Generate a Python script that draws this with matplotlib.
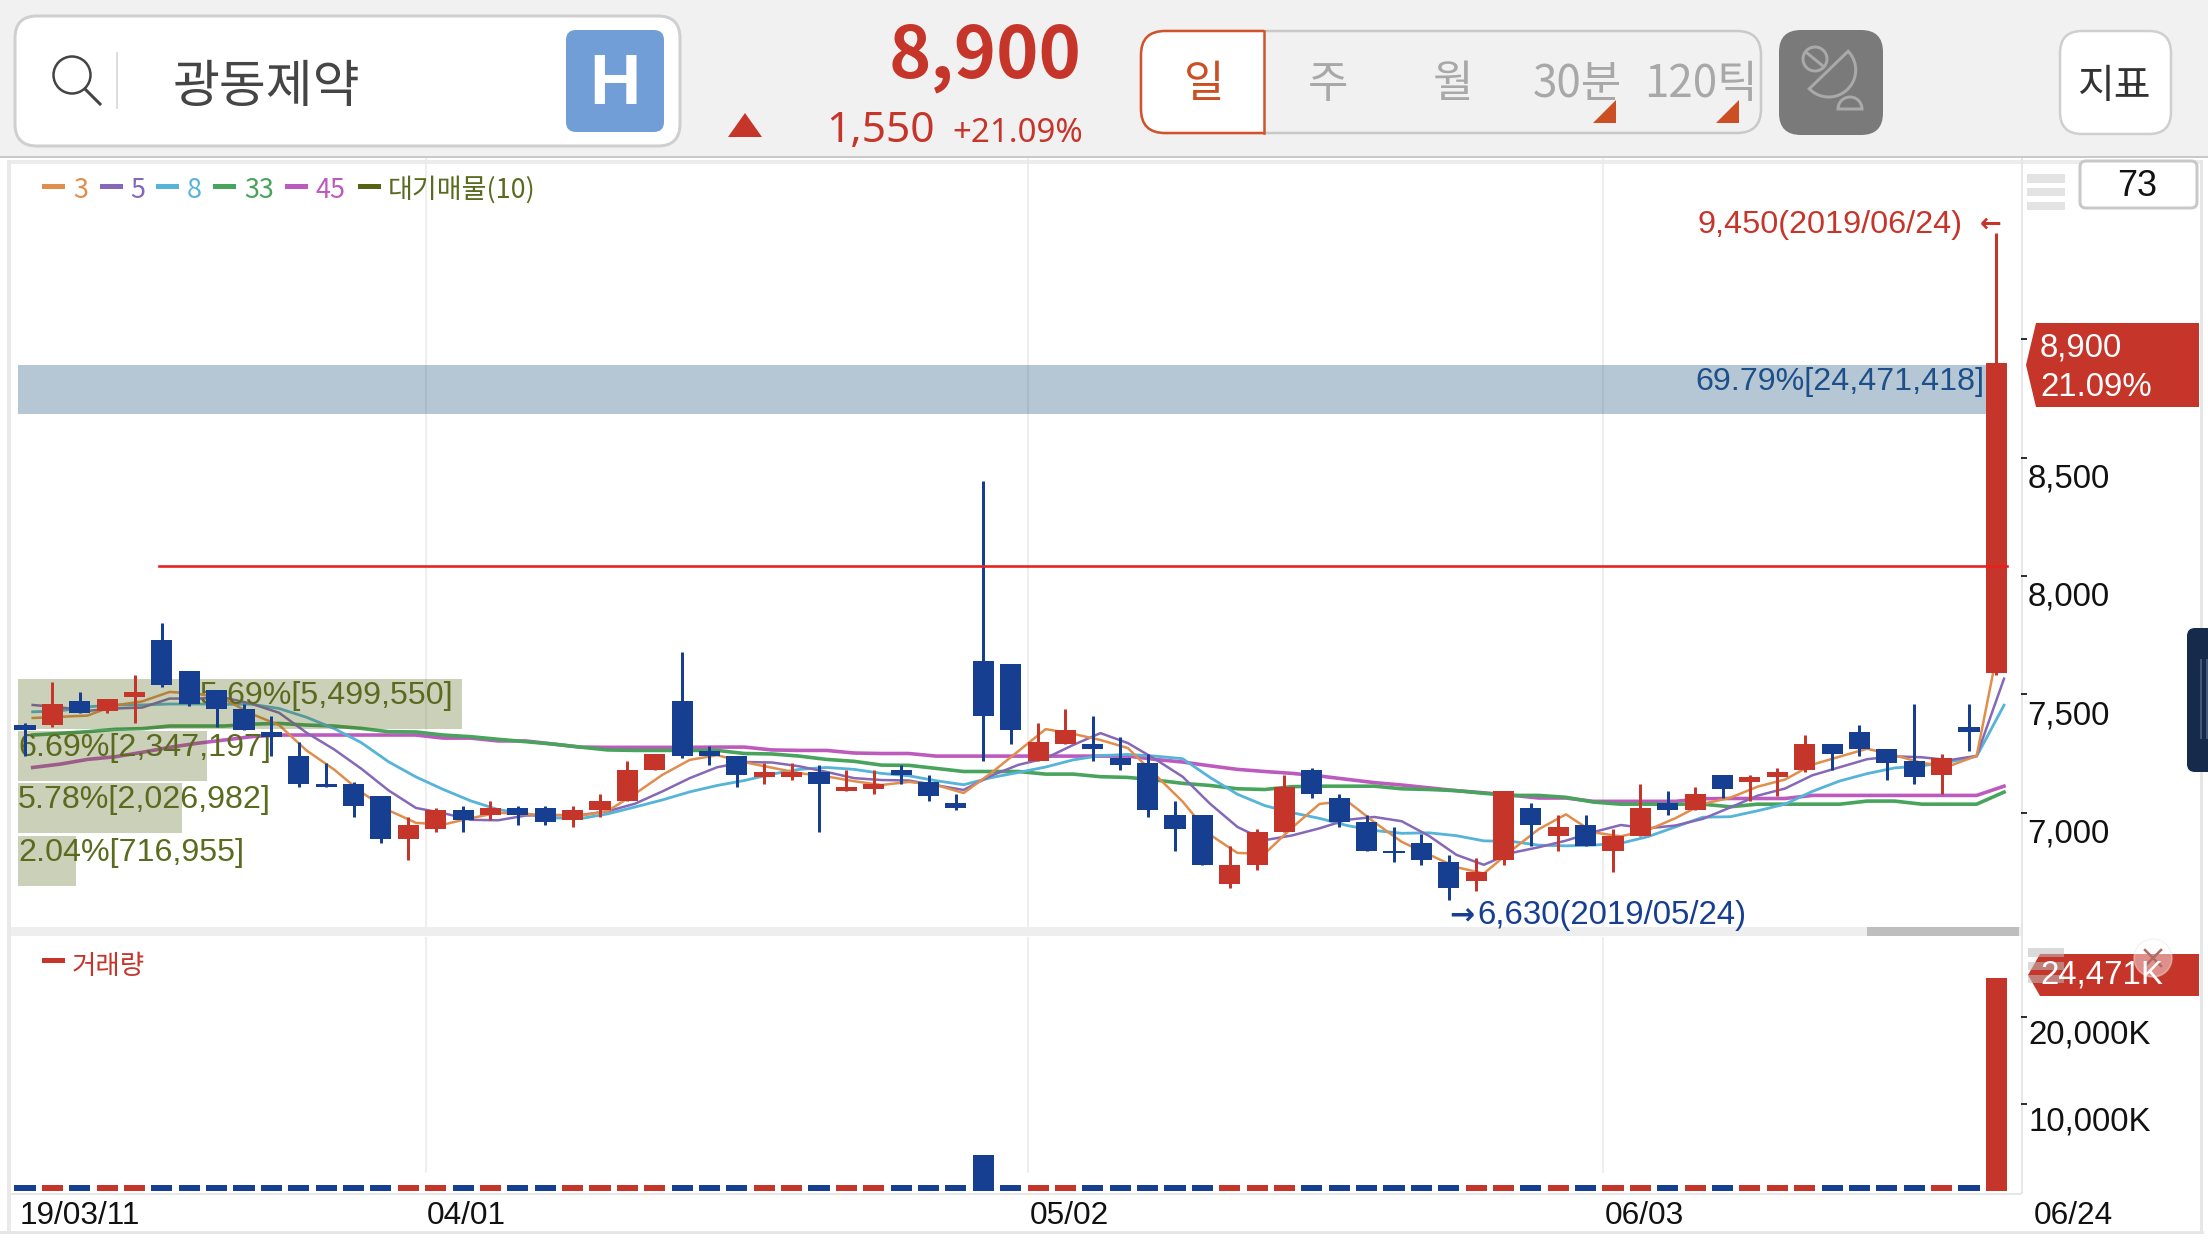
import numpy as np
import matplotlib
matplotlib.use("Agg")
import matplotlib.pyplot as plt
from matplotlib.patches import FancyBboxPatch, Rectangle, Polygon, Circle
from matplotlib.transforms import ScaledTranslation

# ------------------------------ data ------------------------------
opens = [7370,7370,7470,7430,7490,7730,7600,7520,7440,7340,
         7240,7120,7120,7070,6890,6930,7010,6990,7020,7020,
         6970,7010,7050,7180,7470,7260,7240,7150,7150,7170,
         7090,7100,7180,7130,7040,7640,7630,7220,7290,7290,
         7230,7210,6990,6990,6700,6780,6920,7180,7060,6960,
         6840,6870,6790,6710,6800,7020,6900,6950,6840,6900,
         7040,7010,7160,7130,7150,7180,7290,7340,7270,7220,
         7160,7360,7590]
highs = [7380,7550,7510,7480,7580,7800,7600,7520,7460,7410,
         7300,7210,7130,7070,6980,7020,7030,7050,7030,7030,
         7030,7080,7220,7250,7680,7280,7240,7210,7210,7200,
         7180,7180,7200,7160,7080,8400,7630,7380,7440,7410,
         7320,7250,7050,6990,6860,6930,7160,7190,7080,6990,
         6940,6910,6820,6810,7090,7040,6990,6990,6930,7120,
         7090,7110,7160,7160,7190,7330,7290,7370,7270,7460,
         7250,7460,9450]
lows = [7240,7360,7420,7420,7380,7530,7450,7360,7350,7240,
        7110,7110,6980,6870,6800,6920,6920,6970,6950,6950,
        6940,6980,7050,7180,7230,7200,7110,7120,7140,6920,
        7090,7080,7120,7050,7010,7220,7290,7220,7290,7220,
        7180,6980,6840,6780,6680,6760,6920,7060,6940,6840,
        6790,6780,6630,6670,6780,6860,6840,6860,6750,6900,
        6990,7010,7060,7050,7070,7170,7180,7240,7140,7120,
        7080,7260,7580]
closes = [7350,7460,7420,7480,7510,7540,7460,7440,7350,7320,
          7120,7110,7030,6890,6950,7010,6970,7020,6990,6960,
          7010,7050,7180,7250,7240,7240,7160,7170,7170,7120,
          7110,7120,7160,7070,7020,7410,7350,7300,7350,7270,
          7200,7010,6930,6780,6780,6920,7110,7080,6960,6840,
          6830,6800,6680,6750,7090,6950,6940,6860,6900,7020,
          7010,7080,7100,7150,7170,7290,7250,7270,7210,7150,
          7230,7340,8900]
ma3 = [7400,7405,7410,7453,7470,7510,7503,7480,7417,7370,
       7263,7183,7087,7010,6957,6950,6977,7000,6993,6990,
       6987,7007,7080,7160,7223,7243,7213,7190,7167,7153,
       7133,7117,7130,7117,7083,7167,7260,7353,7333,7307,
       7273,7160,7047,6907,6830,6827,6937,7037,7050,6960,
       6877,6823,6770,6743,6840,6930,6993,6917,6900,6927,
       6977,7037,7063,7110,7140,7203,7237,7270,7243,7210,
       7197,7240,7823]
ma5 = [7455,7445,7430,7440,7444,7482,7482,7486,7460,7422,
       7338,7268,7186,7094,7020,6998,6970,6968,6988,6990,
       6990,7006,7038,7090,7146,7192,7214,7212,7196,7172,
       7146,7138,7136,7116,7096,7156,7202,7230,7286,7336,
       7294,7226,7152,7038,6940,6884,6904,6934,6970,6982,
       6964,6902,6822,6780,6830,6854,6882,6918,6948,6934,
       6946,6974,7022,7072,7102,7158,7192,7226,7238,7234,
       7222,7240,7566]
ma8 = [7426,7430,7447,7455,7455,7459,7459,7458,7458,7440,
       7403,7356,7296,7215,7151,7098,7050,7013,6996,6978,
       6975,6995,7024,7054,7088,7115,7136,7163,7183,7191,
       7183,7166,7156,7135,7118,7148,7170,7193,7223,7241,
       7246,7239,7228,7149,7078,7030,7000,6976,6946,6925,
       6913,6915,6903,6881,6879,6863,6860,6863,6871,6899,
       6940,6981,6983,7008,7036,7090,7134,7165,7189,7198,
       7214,7238,7454]
ma33 = [7328,7335,7342,7352,7355,7366,7366,7366,7374,7377,
        7370,7366,7356,7342,7341,7328,7321,7310,7300,7290,
        7277,7265,7263,7263,7263,7263,7250,7248,7239,7225,
        7217,7201,7200,7187,7174,7174,7174,7163,7163,7152,
        7149,7138,7124,7115,7101,7098,7110,7112,7112,7112,
        7101,7098,7093,7082,7073,7073,7065,7045,7036,7036,
        7036,7036,7025,7036,7036,7036,7036,7049,7049,7036,
        7036,7036,7087]
ma45 = [7191,7205,7225,7236,7255,7276,7293,7307,7321,7328,
        7328,7328,7328,7328,7328,7315,7315,7303,7303,7290,
        7277,7276,7276,7276,7276,7277,7277,7265,7263,7263,
        7252,7250,7250,7239,7239,7239,7239,7239,7239,7239,
        7239,7225,7214,7198,7183,7174,7166,7155,7141,7127,
        7117,7105,7093,7084,7074,7062,7062,7048,7048,7048,
        7048,7059,7060,7060,7060,7073,7073,7073,7073,7073,
        7073,7073,7112]
volumes_k = [700,700,700,700,700,700,700,700,700,700,
             700,700,700,700,700,700,700,700,700,700,
             700,700,700,700,700,700,700,700,700,700,
             700,700,700,700,700,4140,700,700,700,700,
             700,700,700,700,700,700,700,700,700,700,
             700,700,700,700,700,700,700,700,700,700,
             700,700,700,700,700,700,700,700,700,700,
             700,700,24471]
profile_center = [8787, 7459, 7238, 7019, 6797]
profile_volume = [24471418, 5499550, 2347197, 2026982, 716955]
profile_pct = [69.79, 15.69, 6.69, 5.78, 2.04]
trend_x = [4.9, 72.4]
trend_y = [8040, 8040]
price_ticks = [7000, 7500, 8000, 8500, 9000]
price_labels = ["7,000", "7,500", "8,000", "8,500", ""]
vol_ticks = [10000, 20000]
vol_labels = ["10,000K", "20,000K"]
date_pos = [0, 15, 37, 58]
date_labels = ["19/03/11", "04/01", "05/02", "06/03"]
last_date = "06/24"
legend_labels = ["3", "5", "8", "33", "45", "대기매물(10)"]

# ------------------------------ style ------------------------------
W, H = 2208, 1242
DPI = 100
RED = "#c6352a"; NAVY = "#173f91"; OLIVE = "#5a6a1e"
C3 = "#e18e4d"; C5 = "#8568b7"; C8 = "#55b4d8"; C33 = "#48a45c"; C45 = "#bd5abd"
LAT = "Liberation Sans"; KR = "Noto Sans CJK KR"; UI = "Noto Sans"
def pt(px):
    return px * 72.0 / DPI

plt.rcParams["font.family"] = [LAT, "DejaVu Sans"]
fig = plt.figure(figsize=(W / DPI, H / DPI), dpi=DPI, facecolor="white")

def panel(l, t, r, b, z):
    a = fig.add_axes([l / W, 1 - b / H, (r - l) / W, (b - t) / H], zorder=z)
    a.patch.set_alpha(0)
    for s in a.spines.values():
        s.set_visible(False)
    return a

# layout: pixel of candle 0, pitch, price scale
X0, DX, L, R = 25.0, 27.38, 11, 2021
PT, PB = 158, 927
Y7000, PXU = 812.7, 0.2368
xlim = ((L - X0) / DX, (R - X0) / DX)
ylim = (7000 + (Y7000 - PB) / PXU, 7000 + (Y7000 - PT) / PXU)
days = np.arange(len(closes))

# ---- chrome behind the charts ----
bg = panel(0, 0, W, H, 0)
bg.set_xlim(0, W); bg.set_ylim(H, 0); bg.axis("off")
bg.add_patch(Rectangle((0, 0), W, 156, color="#f1f1f1", lw=0))
bg.add_patch(Rectangle((0, 155.5), W, 2.5, color="#c9c9c9", lw=0))
bg.add_patch(Rectangle((8, 160), 2192, 3.5, color="#ececec", lw=0))
bg.add_patch(Rectangle((7, 160), 4, 1072, color="#e9e9e9", lw=0))
bg.add_patch(Rectangle((0, 1231), 2204, 2.5, color="#e6e6e6", lw=0))
bg.add_patch(Rectangle((2200, 160), 2.5, 1072, color="#e6e6e6", lw=0))
bg.add_patch(Rectangle((2020.5, 158), 2, 1036, color="#e6e6e6", lw=0))
bg.add_patch(Rectangle((11, 1193), 2010, 2, color="#e6e6e6", lw=0))
bg.add_patch(Rectangle((11, 927), 2010, 9, color="#eeeeee", lw=0))
bg.add_patch(Rectangle((1867, 927), 152, 9, color="#bebebe", lw=0))

def rbox(a, x0, y0, x1, y1, r, fc, ec="none", lw=0, **kw):
    p = FancyBboxPatch((x0, y0), x1 - x0, y1 - y0, boxstyle=f"round,pad=0,rounding_size={r}",
                       fc=fc, ec=ec, lw=lw, **kw)
    a.add_patch(p)
    return p

# search box
rbox(bg, 15, 16, 680, 146, 22, "white", "#cfcfcf", pt(3))
bg.add_patch(Circle((72, 75), 18.5, fc="none", ec="#444444", lw=pt(2.5)))
bg.plot([85, 100], [89, 104], color="#444444", lw=pt(3))
bg.plot([116.5, 116.5], [53, 108], color="#dddddd", lw=pt(2))
bg.text(173, 87, "광동제약", family=KR, fontsize=pt(51), color="#454545", va="center", ha="left", weight="medium")
rbox(bg, 566, 30, 664, 132, 10, "#719ed6")
bg.text(615, 86, "H", family=LAT, weight="bold", fontsize=pt(71), color="white", va="center", ha="center")
bg.add_patch(Polygon([[728, 137], [762, 137], [745, 113]], color=RED, lw=0))
bg.text(1081, 57, "8,900", family=KR, weight="bold", fontsize=pt(72), color=RED, ha="right", va="center")
bg.text(935, 131, "1,550", family=UI, fontsize=pt(42.5), color=RED, ha="right", va="center")
bg.text(1083, 133, "+21.09%", family=UI, fontsize=pt(33), color=RED, ha="right", va="center")

# period selector
rbox(bg, 1141, 31, 1761, 133, 24, "#f1f1f1", "#c9c9c9", pt(2.5))
sel = rbox(bg, 1141, 31, 1300, 133, 24, "white", "#d0532a", pt(2.5))
sel.set_clip_path(Rectangle((1130, 20), 134, 125, transform=bg.transData))
bg.plot([1264, 1264], [31, 133], color="#d0532a", lw=pt(2.5))
bg.text(1204, 84, "일", family=KR, fontsize=pt(44), color="#cc4f24", ha="center", va="center")
for tx, ts, tf in [(1328, "주", 44), (1453, "월", 44), (1577, "30분", 44), (1701, "120틱", 44)]:
    bg.text(tx, 84, ts, family=KR, fontsize=pt(tf), color="#a8a8a8", ha="center", va="center")
for a0, a1 in [(1593, 1616), (1716, 1739)]:
    bg.add_patch(Polygon([[a0, 123], [a1, 123], [a1, 100]], color="#cc4f24", lw=0))

# dark icon button
rbox(bg, 1779, 30, 1883, 135, 22, "#7a7a7a")
GR = "#a9a9a9"
bg.add_patch(Circle((1815, 59), 12, fc="none", ec=GR, lw=pt(3)))
bg.plot([1807, 1823], [53, 66], color=GR, lw=pt(3))
ang = np.radians(np.linspace(-44, 136, 50))
bg.add_patch(Polygon(np.c_[1828.7 + 27 * np.cos(ang), 70 + 27 * np.sin(ang)], closed=True, fc="none", ec=GR, lw=pt(3)))
ang2 = np.radians(np.linspace(180, 360, 30))
bg.add_patch(Polygon(np.c_[1850 + 12 * np.cos(ang2), 109 + 12 * np.sin(ang2)], closed=True, fc="none", ec=GR, lw=pt(3)))

# indicators button
rbox(bg, 2060, 31, 2171, 134, 22, "white", "#cfcfcf", pt(2.5))
bg.text(2115, 87, "지표", family=KR, fontsize=pt(40), color="#333333", ha="center", va="center")

# scale box
rbox(bg, 2080, 161, 2197, 208, 6, "white", "#c8c8c8", pt(3))
bg.text(2137, 187, "73", family=LAT, fontsize=pt(36), color="#111111", ha="center", va="center")
for y0, y1 in [(174, 183), (188, 196), (202, 210)]:
    bg.add_patch(Rectangle((2027, y0), 38, y1 - y0, color="#e3e3e3", lw=0))

# side tab
rbox(bg, 2187, 628, 2230, 772, 8, "#162a4c")
bg.plot([2200.5, 2200.5], [660, 738], color="#46577a", lw=pt(2))
bg.plot([2207, 2207], [660, 738], color="#46577a", lw=pt(2))

# ---- layer 1: gridlines and moving averages ----
ax_ma = panel(L, PT, R, PB, 1)
ax_ma.set_xlim(xlim); ax_ma.set_ylim(ylim); ax_ma.set_xticks([]); ax_ma.set_yticks([])
GRID = "#e9e9e9"
for d in date_pos[1:]:
    ax_ma.axvline(d - 0.35, color=GRID, lw=pt(1.5))
xma = days + 0.28
for vals, col, lw in [(ma45, C45, 3.6), (ma33, C33, 3.6), (ma8, C8, 2.8), (ma5, C5, 2.5), (ma3, C3, 2.5)]:
    ax_ma.plot(xma, vals, color=col, lw=pt(lw), solid_joinstyle="round")

# ---- layer 2: price-volume profile ----
ax_pf = panel(L, PT, R, PB, 2)
SCALE = 80.7e-6  # pixels per share
ax_pf.set_xlim((L - 18) / SCALE, (R - 18) / SCALE); ax_pf.set_ylim(ylim)
ax_pf.set_xticks([]); ax_pf.set_yticks([])
for c, v, pc in zip(profile_center, profile_volume, profile_pct):
    top = c == max(profile_center)
    col = "#0c4476" if top else "#556414"
    ax_pf.barh(c, v, height=210, color=col, alpha=0.3, lw=0)
    txt = f"{pc:.2f}%[{v:,}]"
    wide = v > 4e6
    ax_pf.annotate(txt, xy=(v - 0.13e6 if wide else 0, c),
                   xytext=(pt(2 if wide else 0), pt(8)), textcoords="offset points",
                   ha="right" if wide else "left", va="center", fontsize=pt(32.3),
                   color="#1d4f88" if top else OLIVE, family=LAT)

# ---- layer 3: candles ----
ax = panel(L, PT, R, PB, 3)
ax.set_xlim(xlim); ax.set_ylim(ylim)
cols = [RED if c >= o else NAVY for o, c in zip(opens, closes)]
ax.vlines(days, lows, highs, colors=cols, lw=pt(3))
ax.bar(days, np.abs(np.subtract(closes, opens)), bottom=np.minimum(opens, closes),
       width=0.77, color=cols, lw=0)
ax.plot(trend_x, trend_y, color="#e8201f", lw=pt(2.6), zorder=5)
ax.set_xticks([])
ax.yaxis.tick_right()
ax.set_yticks(price_ticks, price_labels)
ax.tick_params(axis="y", length=pt(6), width=pt(1.6), color="black", pad=pt(0.5), labelsize=pt(33), labelcolor="#111111")
for lb in ax.get_yticklabels():
    lb.set_va("top")
    lb.set_transform(lb.get_transform() + ScaledTranslation(0, -6.0 / DPI, fig.dpi_scale_trans))
hi_i = int(np.argmax(highs)); lo_i = int(np.argmin(lows))
ax.annotate(f"{highs[hi_i]:,}(2019/06/24)", xy=(hi_i, highs[hi_i]), xytext=(pt(-34), pt(8)),
            textcoords="offset points", ha="right", va="center", fontsize=pt(32.5), color=RED)
ax.annotate("←", xy=(hi_i, highs[hi_i]), xytext=(pt(-6), pt(8)), textcoords="offset points",
            ha="center", va="center", fontsize=pt(26), color=RED, family="DejaVu Sans", weight="bold")
ax.annotate(f"{lows[lo_i]:,}(2019/05/24)", xy=(lo_i, lows[lo_i]), xytext=(pt(29), pt(-15)),
            textcoords="offset points", ha="left", va="center", fontsize=pt(33), color=NAVY)
ax.annotate("→", xy=(lo_i, lows[lo_i]), xytext=(pt(13), pt(-15)), textcoords="offset points",
            ha="center", va="center", fontsize=pt(30), color=NAVY, family="DejaVu Sans", weight="bold")

# ---- volume panel ----
VT, VB = 937, 1191
VPX = 8.704  # pixels per 1000K
axv = panel(L, VT, R, VB, 3)
axv.set_xlim(xlim); axv.set_ylim(0, (VB - VT) / VPX * 1000)
for d in date_pos[1:]:
    axv.axvline(d - 0.35, ymin=0.075, color=GRID, lw=pt(1.5))
axv.bar(days, volumes_k, width=0.77, color=cols, lw=0)
axv.yaxis.tick_right()
axv.set_yticks(vol_ticks, vol_labels)
axv.tick_params(axis="y", length=pt(6), width=pt(1.6), color="black", pad=pt(124), labelsize=pt(33), labelcolor="#111111")
for lb in axv.get_yticklabels():
    lb.set_va("top"); lb.set_ha("right")
    lb.set_transform(lb.get_transform() + ScaledTranslation(0, -3.0 / DPI, fig.dpi_scale_trans))
axv.set_xticks([d - 0.35 for d in date_pos], date_labels)
axv.tick_params(axis="x", length=0, pad=pt(10), labelsize=pt(31.5), labelcolor="#111111")
for k, lb in enumerate(axv.get_xticklabels()):
    lb.set_ha("left")
    lb.set_transform(lb.get_transform() + ScaledTranslation((4.0 if k == 0 else 1.0) / DPI, 0, fig.dpi_scale_trans))
axv.annotate(last_date, xy=(days[-1], 0), xytext=(pt(37), pt(-10)), textcoords="offset points",
             ha="left", va="top", fontsize=pt(31.5), color="#111111", annotation_clip=False)

# ---- chrome on top: legends and current-value tags ----
ov = panel(0, 0, W, H, 10)
ov.set_xlim(0, W); ov.set_ylim(H, 0); ov.axis("off")
leg_cols = [C3, C5, C8, C33, C45, "#556414"]
leg_sw = [42, 100, 156, 213, 285, 358]
leg_tx = [73, 130, 187, 244, 316, 388]
for c, s, t, lab in zip(leg_cols, leg_sw, leg_tx, legend_labels):
    ov.add_patch(Rectangle((s, 183.5), 23, 5, color=c, lw=0))
    ov.text(t, 190, lab, color="#5a6a1e" if c == "#556414" else c, family=[KR, "DejaVu Sans"],
            fontsize=pt(27), va="center", ha="left")
ov.add_patch(Rectangle((42, 957.5), 23, 5, color=RED, lw=0))
ov.text(72, 966, "거래량", color=RED, family=KR, fontsize=pt(26.5), va="center", ha="left")

ov.add_patch(Polygon([[2036, 323], [2199, 323], [2199, 407], [2036, 407], [2026, 365]], color=RED, lw=0))
ov.text(2040, 348, "8,900", color="white", fontsize=pt(33), va="center", ha="left")
ov.text(2040, 387, "21.09%", color="white", fontsize=pt(33), va="center", ha="left")
ov.add_patch(Polygon([[2040, 954], [2199, 954], [2199, 996], [2040, 996], [2028, 975]], color=RED, lw=0))
for y0, y1 in [(948, 957), (962, 970), (975, 983)]:
    ov.add_patch(Rectangle((2028, y0), 36, y1 - y0, color="#bdbdbd", alpha=0.55, lw=0))
ov.text(2040, 975, "24,471K", color="white", fontsize=pt(33), va="center", ha="left")
ov.add_patch(Circle((2153, 958), 19, fc="white", ec="#e8e8e8", alpha=0.45, lw=pt(1.5)))
ov.plot([2145, 2161], [950, 966], color="#b06a64", lw=pt(2.5))
ov.plot([2145, 2161], [966, 950], color="#b06a64", lw=pt(2.5))

fig.savefig("out.png", dpi=DPI, facecolor="white")
